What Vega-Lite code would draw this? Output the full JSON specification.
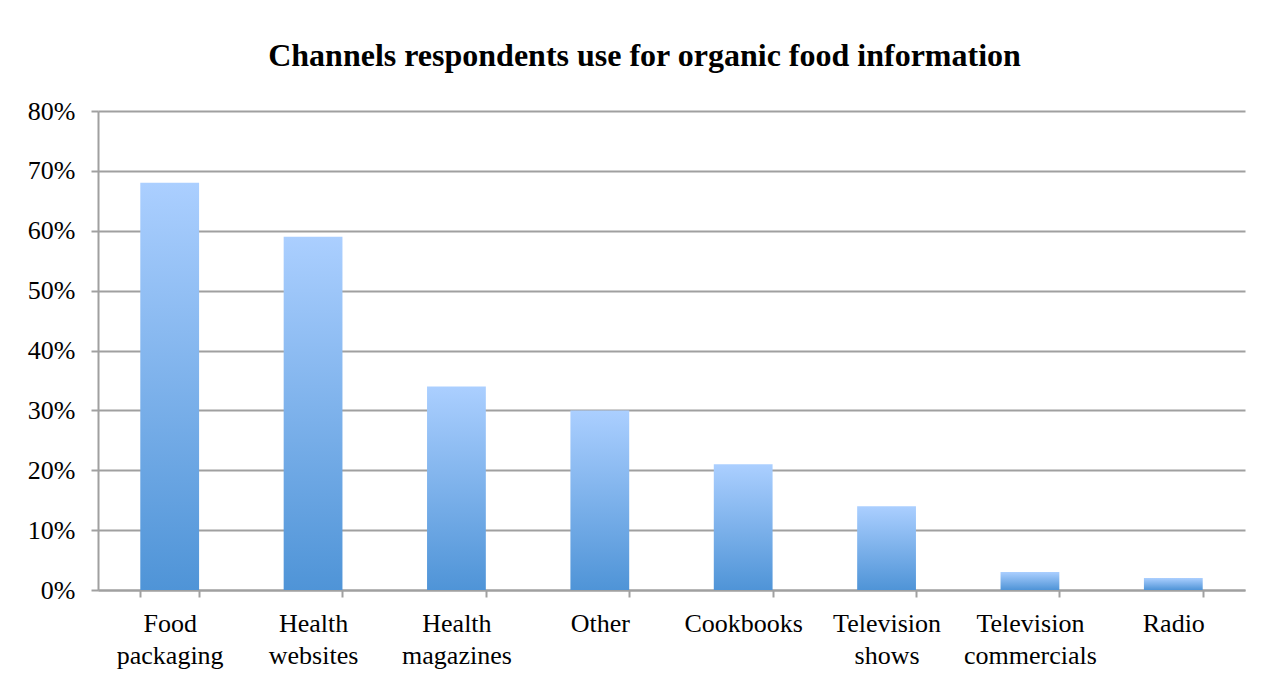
{
  "$schema": "https://vega.github.io/schema/vega-lite/v6.json",
  "autosize": {"type": "none"},
  "width": 1147,
  "height": 479,
  "padding": {"left": 98, "top": 111, "right": 41, "bottom": 91},
  "background": "white",
  "title": {
    "text": "Channels respondents use for organic food information",
    "font": "Liberation Serif",
    "fontSize": 32,
    "fontWeight": "bold",
    "color": "black",
    "anchor": "middle",
    "offset": 25,
    "dx": -27
  },
  "data": {
    "values": [
      {"channel": "Food packaging", "share": 0.68},
      {"channel": "Health websites", "share": 0.59},
      {"channel": "Health magazines", "share": 0.34},
      {"channel": "Other", "share": 0.30},
      {"channel": "Cookbooks", "share": 0.21},
      {"channel": "Television shows", "share": 0.14},
      {"channel": "Television commercials", "share": 0.03},
      {"channel": "Radio", "share": 0.02}
    ]
  },
  "mark": {
    "type": "bar",
    "color": {
      "gradient": "linear",
      "x1": 0, "y1": 0, "x2": 0, "y2": 1,
      "stops": [
        {"offset": 0, "color": "#abcfff"},
        {"offset": 1, "color": "#4f94d7"}
      ]
    }
  },
  "encoding": {
    "x": {
      "field": "channel",
      "type": "nominal",
      "sort": null,
      "scale": {"paddingInner": 0.59, "paddingOuter": 0.295},
      "axis": {
        "title": null,
        "labelAngle": 0,
        "labelExpr": "split(datum.label, ' ')",
        "labelFont": "Liberation Serif",
        "labelFontSize": 26,
        "labelColor": "black",
        "labelLineHeight": 32,
        "labelPadding": 13,
        "labelBaseline": "top",
        "labelLimit": 0,
        "tickBand": "extent",
        "tickSize": 7,
        "tickColor": "#a0a0a0",
        "tickWidth": 2,
        "domainColor": "#a0a0a0",
        "domainWidth": 2,
        "grid": false
      }
    },
    "y": {
      "field": "share",
      "type": "quantitative",
      "scale": {"domain": [0, 0.8]},
      "axis": {
        "title": null,
        "values": [0, 0.1, 0.2, 0.3, 0.4, 0.5, 0.6, 0.7, 0.8],
        "format": ".0%",
        "labelFont": "Liberation Serif",
        "labelFontSize": 26,
        "labelColor": "black",
        "labelPadding": 16,
        "tickSize": 7,
        "tickColor": "#a0a0a0",
        "tickWidth": 2,
        "domainColor": "#a0a0a0",
        "domainWidth": 2,
        "grid": true,
        "gridColor": "#a0a0a0",
        "gridWidth": 2
      }
    }
  },
  "config": {
    "view": {"stroke": null}
  }
}
